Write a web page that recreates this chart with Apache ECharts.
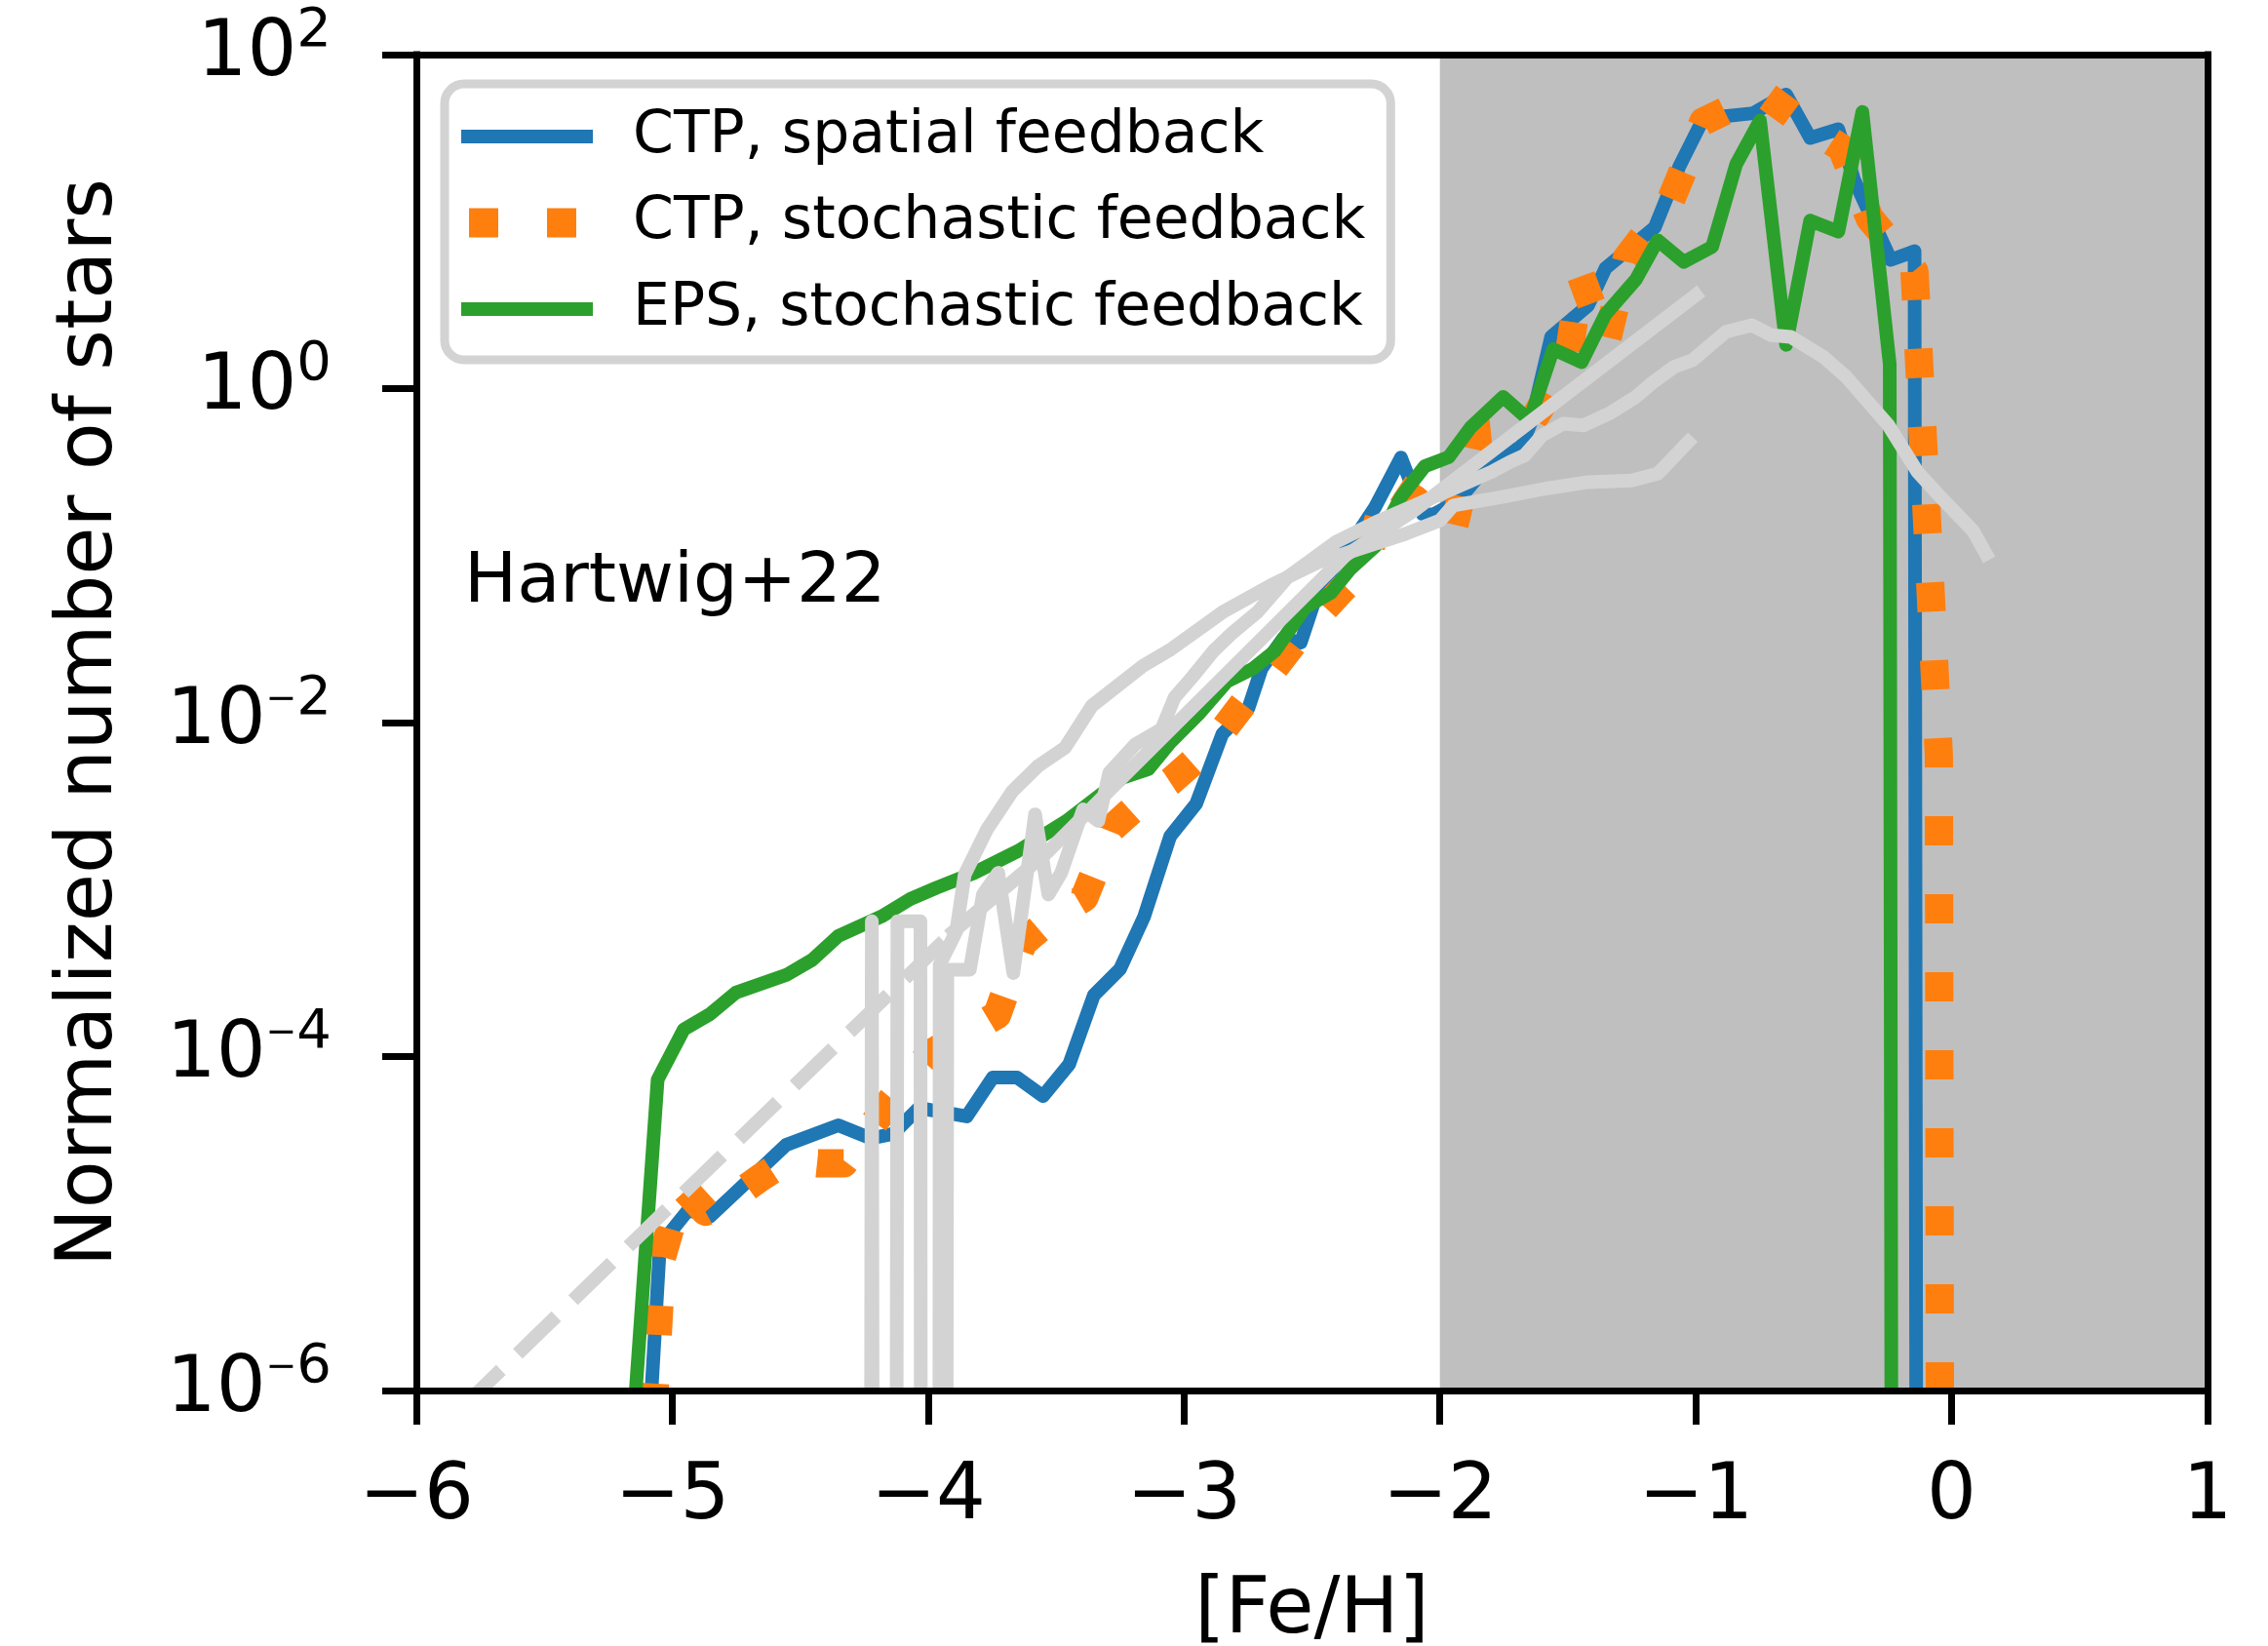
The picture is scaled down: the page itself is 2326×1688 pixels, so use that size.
<!DOCTYPE html>
<html>
<head>
<meta charset="utf-8">
<script src="https://cdn.jsdelivr.net/npm/echarts@6.0.0/dist/echarts.min.js"></script>
<style>
html,body{margin:0;padding:0;background:#fff;}
#c{width:2326px;height:1688px;}
</style>
</head>
<body>
<div id="c"></div>
<script>
// ---------------- data (log10 of normalized number of stars; null = empty bin) ----------------
const ctpSpatialFeH = [-5.10,-5.048,-4.938,-4.853,-4.555,-4.351,-4.223,-4.138,-4.036,-3.849,-3.747,-3.653,-3.551,-3.449,-3.352,-3.250,-3.156,-3.054,-2.952,-2.850,-2.748,-2.697,-2.612,-2.544,-2.476,-2.322,-2.254,-2.152,-2.067,-2.026,-1.931,-1.791,-1.682,-1.644,-1.565,-1.421,-1.353,-1.160,-1.064,-0.970,-0.775,-0.647,-0.553,-0.443,-0.382,-0.238,-0.145,-0.05];
const ctpSpatialLogN = [-6.5,-5.129,-4.920,-4.959,-4.529,-4.412,-4.490,-4.464,-4.308,-4.359,-4.125,-4.125,-4.237,-4.047,-3.632,-3.476,-3.163,-2.681,-2.485,-2.068,-1.912,-1.677,-1.495,-1.521,-1.208,-0.869,-0.712,-0.413,-0.751,-0.754,-0.676,-0.418,-0.349,-0.203,0.31,0.497,0.72,0.966,1.331,1.618,1.649,1.761,1.501,1.553,1.253,0.771,0.823,null];

const ctpStochFeH = [-5.09,-5.04,-4.96,-4.87,-4.75,-4.65,-4.55,-4.43,-4.33,-4.26,-4.16,-4.07,-3.99,-3.85,-3.73,-3.63,-3.50,-3.39,-3.28,-3.15,-3.05,-2.94,-2.84,-2.75,-2.65,-2.56,-2.47,-2.38,-2.29,-2.20,-2.10,-1.95,-1.86,-1.66,-1.50,-1.45,-1.35,-1.27,-1.10,-0.97,-0.74,-0.57,-0.43,-0.32,-0.145,-0.05,0.05];
const ctpStochLogN = [-6.6,-5.2,-4.78,-4.93,-4.83,-4.72,-4.62,-4.64,-4.64,-4.50,-4.29,-4.12,-3.98,-3.86,-3.75,-3.32,-3.15,-3.05,-2.63,-2.45,-2.35,-2.20,-2.03,-1.85,-1.68,-1.50,-1.35,-1.20,-1.06,-0.56,-0.66,-0.86,-0.28,-0.25,0.16,0.68,0.27,0.78,1.12,1.60,1.77,1.58,1.44,1.02,0.70,-2.2,null];

const epsStochFeH = [-5.17,-5.057,-4.955,-4.853,-4.751,-4.555,-4.453,-4.351,-4.181,-4.07,-3.968,-3.82,-3.65,-3.46,-3.24,-3.14,-3.054,-2.944,-2.833,-2.731,-2.646,-2.527,-2.425,-2.348,-2.254,-2.152,-2.059,-1.965,-1.88,-1.753,-1.650,-1.557,-1.446,-1.353,-1.234,-1.149,-1.047,-0.936,-0.842,-0.749,-0.647,-0.553,-0.443,-0.349,-0.242,-0.14];
const epsStochLogN = [-6.6,-4.138,-3.838,-3.747,-3.617,-3.512,-3.421,-3.278,-3.160,-3.057,-2.99,-2.90,-2.77,-2.59,-2.33,-2.28,-2.12,-1.951,-1.755,-1.677,-1.573,-1.312,-1.221,-1.077,-0.947,-0.648,-0.465,-0.41,-0.233,-0.05,-0.19,0.236,0.158,0.445,0.653,0.888,0.758,0.849,1.344,1.605,0.262,1.006,0.940,1.657,0.145,null];

// observational comparison curves (light grey)
const obsAFeH = [-4.32,-4.22,-4.12,-4.02,-3.925,-3.837,-3.786,-3.726,-3.667,-3.582,-3.530,-3.480,-3.394,-3.335,-3.292,-3.190,-3.088,-3.037,-2.969,-2.884,-2.816,-2.714,-2.595,-2.408,-2.25,-2.10,-1.95,-1.80,-1.727,-1.669,-1.600,-1.517,-1.438,-1.339,-1.234,-1.174,-1.085,-1.013,-0.882,-0.781,-0.705,-0.629,-0.501,-0.412,-0.247,-0.133,-0.031,0.083,0.134];
const obsALogN = [null,-3.19,null,null,-3.48,-3.48,-3.03,-2.90,-3.50,-2.55,-3.03,-2.90,-2.52,-2.59,-2.30,-2.13,-2.04,-1.85,-1.73,-1.57,-1.47,-1.34,-1.13,-0.92,-0.80,-0.70,-0.60,-0.50,-0.44,-0.40,-0.28,-0.21,-0.22,-0.15,-0.05,0.03,0.13,0.17,0.34,0.38,0.32,0.31,0.19,0.07,-0.22,-0.50,-0.67,-0.85,-0.99];

const obsBFeH = [-4.22,-4.12,-4.03,-3.99,-3.955,-3.89,-3.857,-3.77,-3.67,-3.57,-3.465,-3.36,-3.16,-3.05,-2.85,-2.663,-2.476,-2.135,-2.0,-1.948,-1.761,-1.591,-1.421,-1.251,-1.149,-1.03];
const obsBLogN = [null,-3.19,-3.19,null,-3.45,-3.25,-2.91,-2.64,-2.41,-2.26,-2.15,-1.90,-1.66,-1.56,-1.34,-1.18,-1.04,-0.87,-0.79,-0.70,-0.65,-0.60,-0.56,-0.55,-0.51,-0.32];

const obsFitFeH = [-3.90,-3.53,-2.37,-2.10,-1.00];
const obsFitLogN = [-3.25,-2.77,-1.00,-0.73,0.56];

const obsExtrapFeH = [-5.82,-3.90];
const obsExtrapLogN = [-6.1,-3.25];

const shadedFeH = [-2, 1];

const xTickValues = [-6,-5,-4,-3,-2,-1,0,1];
const xTickLabels = ['\u22126','\u22125','\u22124','\u22123','\u22122','\u22121','0','1'];
const yTickExponents = [-6,-4,-2,0,2];
const yTickSup = ['\u22126','\u22124','\u22122','0','2'];

const seriesNames = ['CTP, spatial feedback','CTP, stochastic feedback','EPS, stochastic feedback'];
const annotationText = 'Hartwig+22';
const xAxisTitle = '[Fe/H]';
const yAxisTitle = 'Normalized number of stars';

// ---------------- build ----------------
const EMPTY_BIN = 1e-100; // like matplotlib clipping of non-positive values on log axes
function pts(xs, logs) {
  return xs.map((x, i) => [x, logs[i] === null ? EMPTY_BIN : Math.pow(10, logs[i])]);
}
const FONT = 'DejaVu Sans';
const BLUE = '#1f77b4', ORANGE = '#ff7f0e', GREEN = '#2ca02c', LGRAY = '#d3d3d3';

function lineSeries(name, data, color, width, type, cap) {
  return {
    type: 'line', name: name, data: data, symbol: 'none', showSymbol: false,
    clip: true, silent: true, animation: false, smooth: false,
    itemStyle: { color: color },
    lineStyle: { color: color, width: width, type: type || 'solid', cap: cap || 'square', join: 'round' },
    emphasis: { disabled: true }
  };
}

const chart = echarts.init(document.getElementById('c'), null, { renderer: 'canvas', width: 2326, height: 1688, devicePixelRatio: 1 });

const axisLineStyle = { color: '#000', width: 7, cap: 'square' };

const blue = lineSeries(seriesNames[0], pts(ctpSpatialFeH, ctpSpatialLogN), BLUE, 14);
blue.markArea = {
  silent: true,
  itemStyle: { color: '#bfbfbf' },
  label: { show: false },
  data: [[{ xAxis: shadedFeH[0] }, { xAxis: shadedFeH[1] }]]
};

function yLabel(v) {
  const e = Math.round(Math.log10(v));
  const i = yTickExponents.indexOf(e);
  if (i < 0) return '';
  const sup = yTickSup[i];
  if (sup.charAt(0) === '\u2212') return '{b|10}{m|\u2212}{s|' + sup.slice(1) + '}';
  return '{b|10}{s|' + sup + '}';
}

const option = {
  animation: false,
  backgroundColor: '#ffffff',
  grid: { left: 427, top: 56, width: 1837, height: 1370, containLabel: false, outerBoundsMode: 'none' },
  xAxis: [{
    type: 'value', min: -6, max: 1, interval: 1, position: 'bottom', z: 10,
    axisLine: { show: true, onZero: false, lineStyle: axisLineStyle },
    axisTick: { show: true, inside: false, length: 35, lineStyle: { color: '#000', width: 7 } },
    axisLabel: {
      margin: 70, fontSize: 80, lineHeight: 80, fontFamily: FONT, color: '#000',
      showMinLabel: true, showMaxLabel: true,
      formatter: function (v) { const i = xTickValues.indexOf(Math.round(v)); return i >= 0 ? xTickLabels[i] : ''; }
    },
    splitLine: { show: false },
    name: xAxisTitle, nameLocation: 'middle', nameGap: 197,
    nameTextStyle: { fontSize: 80, lineHeight: 60, fontFamily: FONT, color: '#000' }
  }, {
    type: 'value', min: -6, max: 1, interval: 1, position: 'top', z: 10,
    axisLine: { show: true, onZero: false, lineStyle: axisLineStyle },
    axisTick: { show: false }, axisLabel: { show: false }, splitLine: { show: false }
  }],
  yAxis: [{
    type: 'log', logBase: 10, min: 1e-6, max: 1e2, interval: 2, position: 'left', z: 10,
    axisLine: { show: true, onZero: false, lineStyle: axisLineStyle },
    axisTick: { show: true, inside: false, length: 35, lineStyle: { color: '#000', width: 7 } },
    minorTick: { show: false },
    axisLabel: {
      margin: 87, color: '#000', fontFamily: FONT, showMinLabel: true, showMaxLabel: true,
      formatter: yLabel,
      rich: {
        b: { fontSize: 80, lineHeight: 80, fontFamily: FONT, color: '#000', verticalAlign: 'bottom' },
        m: { fontSize: 38, lineHeight: 38, fontFamily: FONT, color: '#000', verticalAlign: 'bottom', padding: [0, 0, 44, 0] },
        s: { fontSize: 56, lineHeight: 56, fontFamily: FONT, color: '#000', verticalAlign: 'bottom', padding: [0, 0, 36, 0] }
      }
    },
    splitLine: { show: false },
    name: yAxisTitle, nameLocation: 'middle', nameGap: 294,
    nameTextStyle: { fontSize: 80, lineHeight: 80, fontFamily: FONT, color: '#000' }
  }, {
    type: 'log', logBase: 10, min: 1e-6, max: 1e2, interval: 2, position: 'right', z: 10,
    axisLine: { show: true, onZero: false, lineStyle: axisLineStyle },
    axisTick: { show: false }, axisLabel: { show: false }, splitLine: { show: false }, minorTick: { show: false }
  }],
  legend: {
    orient: 'vertical', left: 456, top: 86,
    padding: [24, 26, 22, 17], itemGap: 28.5, itemWidth: 171, itemHeight: 30,
    backgroundColor: '#ffffff', borderColor: '#d3d3d3', borderWidth: 9, borderRadius: 20,
    selectedMode: false,
    textStyle: { fontSize: 60, lineHeight: 60, fontFamily: FONT, color: '#000' },
    data: [
      { name: seriesNames[0], icon: 'path://M0,0M171,30M0,8h135v14h-135z' },
      { name: seriesNames[1], icon: 'path://M0,0M171,30M8,0h30v30h-30zM88,0h30v30h-30z' },
      { name: seriesNames[2], icon: 'path://M0,0M171,30M0,8h135v14h-135z' }
    ]
  },
  graphic: [{
    type: 'text', left: 476, top: 562, silent: true,
    style: { text: annotationText, fontSize: 72, fontFamily: FONT, fill: '#000' }
  }, {
    // blank strip just outside the plot's bottom edge (hides line widths poking past the clip edge)
    type: 'rect', z: 5, silent: true,
    shape: { x: 380, y: 1428, width: 1930, height: 22 },
    style: { fill: '#ffffff' }
  }],
  series: [
    blue,
    lineSeries(seriesNames[1], pts(ctpStochFeH, ctpStochLogN), ORANGE, 29, [30, 50], 'butt'),
    lineSeries(seriesNames[2], pts(epsStochFeH, epsStochLogN), GREEN, 14),
    lineSeries('obsA', pts(obsAFeH, obsALogN), LGRAY, 14),
    lineSeries('obsB', pts(obsBFeH, obsBLogN), LGRAY, 14),
    lineSeries('obsFit', pts(obsFitFeH, obsFitLogN), LGRAY, 14),
    lineSeries('obsExtrap', pts(obsExtrapFeH, obsExtrapLogN), LGRAY, 14, [55, 24], 'butt')
  ]
};
chart.setOption(option);
</script>
</body>
</html>
